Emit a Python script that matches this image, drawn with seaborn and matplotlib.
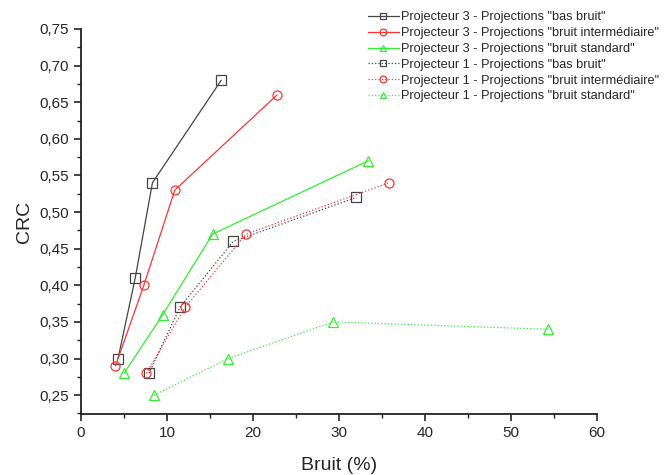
import numpy as np
import pandas as pd
import matplotlib
matplotlib.use("Agg")
import matplotlib.pyplot as plt
from matplotlib.ticker import FuncFormatter, MultipleLocator
import seaborn as sns

# data
labels = [
    'Projecteur 3 - Projections "bas bruit"',
    'Projecteur 3 - Projections "bruit intermédiaire"',
    'Projecteur 3 - Projections "bruit standard"',
    'Projecteur 1 - Projections "bas bruit"',
    'Projecteur 1 - Projections "bruit intermédiaire"',
    'Projecteur 1 - Projections "bruit standard"',
]
p3_bas_x = [4.3, 6.3, 8.3, 16.3]
p3_bas_y = [0.30, 0.41, 0.54, 0.68]
p3_int_x = [4.0, 7.3, 10.9, 22.8]
p3_int_y = [0.29, 0.40, 0.53, 0.66]
p3_std_x = [5.0, 9.5, 15.3, 33.4]
p3_std_y = [0.28, 0.36, 0.47, 0.57]
p1_bas_x = [7.9, 11.5, 17.7, 32.0]
p1_bas_y = [0.28, 0.37, 0.46, 0.52]
p1_int_x = [7.6, 12.1, 19.2, 35.8]
p1_int_y = [0.28, 0.37, 0.47, 0.54]
p1_std_x = [8.5, 17.1, 29.3, 54.3]
p1_std_y = [0.25, 0.30, 0.35, 0.34]

xs = [p3_bas_x, p3_int_x, p3_std_x, p1_bas_x, p1_int_x, p1_std_x]
ys = [p3_bas_y, p3_int_y, p3_std_y, p1_bas_y, p1_int_y, p1_std_y]
colors = ["#444444", "#ff3333", "#33ee33", "#444444", "#ff3333", "#33ee33"]
markers = ["s", "o", "^", "s", "o", "^"]
styles = ["-", "-", "-", ":", ":", ":"]

sns.set_style("ticks")
plt.rcParams["font.family"] = ["Liberation Sans", "DejaVu Sans"]

fig = plt.figure(figsize=(6.7, 4.75), dpi=100)
ax = fig.add_axes([0.121, 0.128, 0.770, 0.811])

for lab, x, y, c, m, ls in zip(labels, xs, ys, colors, markers, styles):
    df = pd.DataFrame({"x": x, "y": y})
    sns.lineplot(data=df, x="x", y="y", ax=ax, sort=False, color=c,
                 linestyle=ls, linewidth=0.9, marker=m, markersize=6.5,
                 markerfacecolor="none", markeredgecolor=c,
                 markeredgewidth=0.9, label=lab)

ax.set_xlim(0, 60)
ax.set_ylim(0.224, 0.75)
ax.xaxis.set_major_locator(MultipleLocator(10))
ax.xaxis.set_minor_locator(MultipleLocator(5))
ax.yaxis.set_major_locator(MultipleLocator(0.05))
ax.yaxis.set_minor_locator(MultipleLocator(0.025))
ax.yaxis.set_major_formatter(FuncFormatter(lambda v, p: f"{v:.2f}".replace(".", ",")))
ax.tick_params(which="major", length=5, width=1.2, labelsize=11, color="#222222")
ax.tick_params(which="minor", length=3, width=1.0, color="#222222")
for s in ["top", "right"]:
    ax.spines[s].set_visible(False)
for s in ["left", "bottom"]:
    ax.spines[s].set_linewidth(1.3)
    ax.spines[s].set_color("#222222")

ax.set_xlabel("Bruit (%)", fontsize=14, labelpad=12)
ax.set_ylabel("CRC", fontsize=14, labelpad=5)

ax.legend(loc="upper left", bbox_to_anchor=(0.536, 0.995), bbox_transform=fig.transFigure,
          frameon=False, fontsize=9.2, handlelength=2.4, handletextpad=0.15,
          labelspacing=0.3, borderaxespad=0.3, markerscale=0.75)

fig.savefig("out.png", dpi=100)
